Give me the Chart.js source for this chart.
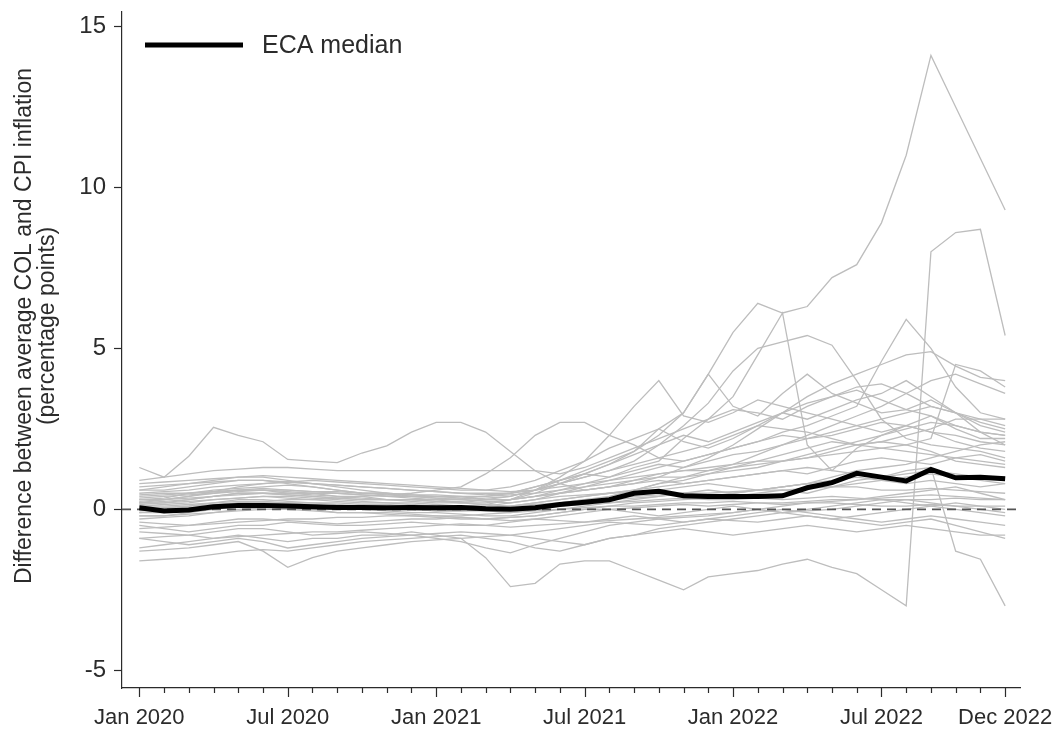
<!DOCTYPE html>
<html>
<head>
<meta charset="utf-8">
<script src="https://cdn.jsdelivr.net/npm/chart.js@4.4.1/dist/chart.umd.min.js"></script>
<style>
  html, body { margin: 0; padding: 0; background: #fff; }
  canvas { display: block; }
</style>
</head>
<body>
<canvas id="col-chart" width="1056" height="736"></canvas>
<script>
// months Jan 2020 .. Dec 2022
const months = [
  "Jan 2020", "Feb 2020", "Mar 2020", "Apr 2020", "May 2020", "Jun 2020",
  "Jul 2020", "Aug 2020", "Sep 2020", "Oct 2020", "Nov 2020", "Dec 2020",
  "Jan 2021", "Feb 2021", "Mar 2021", "Apr 2021", "May 2021", "Jun 2021",
  "Jul 2021", "Aug 2021", "Sep 2021", "Oct 2021", "Nov 2021", "Dec 2021",
  "Jan 2022", "Feb 2022", "Mar 2022", "Apr 2022", "May 2022", "Jun 2022",
  "Jul 2022", "Aug 2022", "Sep 2022", "Oct 2022", "Nov 2022", "Dec 2022"
];
const xTickPos = [0, 6, 12, 18, 24, 30, 35];
const yTicks = [-5, 0, 5, 10, 15];

const median = [
  0.05, -0.05, -0.02, 0.08, 0.12, 0.12, 0.1, 0.08, 0.06, 0.06, 0.05, 0.06,
  0.05, 0.06, 0.02, 0.0, 0.05, 0.15, 0.22, 0.3, 0.5, 0.56, 0.42, 0.4,
  0.4, 0.4, 0.42, 0.67, 0.83, 1.12, 1.0, 0.88, 1.24, 0.98, 1.0, 0.95
];

// individual countries
const c01 = [0.2, 0.3, 0.4, 0.5, 0.6, 0.6, 0.5, 0.5, 0.4, 0.4, 0.3, 0.3, 0.3, 0.2, 0.3, 0.4, 0.6, 0.9, 1.2, 1.5, 1.8, 2.5, 3.0, 4.2, 5.5, 6.4, 6.1, 6.3, 7.2, 7.6, 8.9, 11.0, 14.1, 12.5, 10.9, 9.3];
const c02 = [0.6, 0.6, 0.7, 0.8, 0.9, 0.9, 0.8, 0.7, 0.6, 0.5, 0.5, 0.4, 0.4, 0.4, 0.3, 0.3, 0.4, 0.6, 0.8, 1.0, 1.3, 1.5, 2.2, 2.8, 3.5, 4.8, 6.1, 2.0, 1.2, 1.9, 2.3, 2.6, 2.4, 2.1, 1.9, 1.8];
const c03 = [-1.2, -1.1, -1.0, -0.9, -0.8, -0.9, -1.0, -0.9, -0.9, -0.8, -0.8, -0.7, -0.8, -0.9, -1.5, -2.4, -2.3, -1.7, -1.6, -1.6, -1.9, -2.2, -2.5, -2.1, -2.0, -1.9, -1.7, -1.55, -1.8, -2.0, -2.5, -3.0, 8.0, 8.6, 8.7, 5.4];
const c04 = [-0.2, -0.2, -0.1, 0.0, 0.1, 0.1, 0.0, 0.0, -0.1, -0.1, -0.1, -0.15, -0.2, -0.2, -0.15, -0.1, 0.0, 0.1, 0.2, 0.3, 0.35, 0.4, 0.5, 0.4, 0.5, 0.6, 0.7, 0.8, 0.7, 0.9, 1.0, 1.2, 1.3, -1.3, -1.55, -3.0];
const c05 = [1.3, 1.0, 1.65, 2.55, 2.3, 2.1, 1.55, 1.5, 1.45, 1.75, 1.97, 2.4, 2.7, 2.7, 2.4, 1.8, 1.2, 0.8, 0.6, 0.7, 0.9, 1.1, 1.2, 1.3, 1.4, 1.5, 1.5, 1.6, 1.8, 2.0, 2.1, 2.3, 2.5, 2.8, 2.8, 2.8];
const c06 = [0.4, 0.45, 0.5, 0.55, 0.6, 0.65, 0.6, 0.55, 0.5, 0.45, 0.4, 0.35, 0.3, 0.3, 0.35, 0.4, 0.6, 0.8, 1.0, 1.2, 1.5, 2.0, 2.6, 3.3, 4.3, 5.0, 5.2, 5.4, 5.1, 4.0, 2.8, 2.2, 2.0, 1.9, 1.8, 1.6];
const c07 = [0.1, 0.15, 0.2, 0.3, 0.35, 0.4, 0.4, 0.35, 0.3, 0.25, 0.2, 0.2, 0.15, 0.1, 0.1, 0.2, 0.3, 0.5, 0.7, 0.9, 1.1, 1.3, 1.5, 1.7, 1.9, 2.1, 2.4, 2.6, 2.9, 3.2, 4.6, 5.9, 5.0, 3.8, 3.0, 2.8];
const c08 = [0.3, 0.3, 0.35, 0.4, 0.45, 0.5, 0.5, 0.45, 0.4, 0.35, 0.3, 0.3, 0.25, 0.2, 0.2, 0.3, 0.4, 0.5, 0.6, 0.7, 0.8, 1.0, 1.3, 1.6, 2.0, 2.5, 3.0, 3.5, 3.9, 4.2, 4.5, 4.8, 4.9, 4.45, 4.1, 4.0];
const c09 = [-0.1, -0.1, 0.0, 0.1, 0.2, 0.2, 0.15, 0.1, 0.1, 0.05, 0.0, 0.0, -0.05, -0.05, 0.0, 0.1, 0.2, 0.3, 0.4, 0.5, 0.6, 0.8, 0.9, 1.1, 1.3, 1.5, 1.7, 1.9, 2.1, 2.0, 2.1, 2.0, 2.2, 4.5, 4.3, 3.8];
const c10 = [0.2, 0.25, 0.3, 0.4, 0.5, 0.5, 0.45, 0.4, 0.35, 0.3, 0.3, 0.3, 0.25, 0.25, 0.3, 0.3, 0.6, 1.0, 1.5, 2.3, 3.2, 4.0, 2.9, 2.7, 3.0, 3.4, 3.2, 3.0, 2.8, 2.6, 2.4, 2.6, 2.9, 2.5, 2.2, 2.2];
const c11 = [0.0, 0.05, 0.1, 0.15, 0.2, 0.25, 0.3, 0.3, 0.35, 0.4, 0.45, 0.5, 0.6, 0.7, 1.1, 1.6, 2.3, 2.7, 2.7, 2.3, 2.0, 1.6, 1.8, 2.0, 2.3, 2.6, 2.5, 2.4, 2.2, 2.0, 1.9, 2.0, 1.8, 1.5, 1.4, 1.3];
const c12 = [0.9, 1.0, 1.1, 1.2, 1.25, 1.3, 1.3, 1.25, 1.2, 1.2, 1.2, 1.2, 1.2, 1.2, 1.2, 1.2, 1.2, 1.1, 1.3, 1.6, 1.9, 2.2, 2.5, 2.8, 3.1, 3.0, 2.8, 3.2, 3.5, 3.8, 3.9, 3.6, 3.2, 3.0, 2.7, 2.5];
const c13 = [0.7, 0.75, 0.8, 0.85, 0.9, 0.9, 0.85, 0.8, 0.75, 0.7, 0.65, 0.6, 0.55, 0.5, 0.5, 0.5, 0.7, 0.9, 1.1, 1.4, 1.8, 2.3, 3.0, 4.2, 3.2, 2.9, 3.6, 4.2, 3.6, 3.3, 3.0, 3.1, 3.4, 3.0, 2.4, 2.0];
const c14 = [0.8, 0.85, 0.9, 0.95, 1.0, 1.05, 1.0, 0.95, 0.9, 0.85, 0.8, 0.75, 0.7, 0.65, 0.6, 0.55, 0.6, 0.7, 0.8, 0.9, 1.0, 1.1, 1.2, 1.2, 1.3, 1.4, 1.5, 1.6, 1.7, 1.8, 1.9, 1.8, 1.7, 1.6, 1.5, 1.4];
const c15 = [0.6, 0.7, 0.8, 0.9, 1.0, 1.0, 0.9, 0.8, 0.7, 0.6, 0.5, 0.45, 0.4, 0.35, 0.3, 0.3, 0.4, 0.5, 0.6, 0.7, 0.8, 0.9, 0.8, 0.9, 1.0, 1.1, 1.2, 1.3, 1.2, 1.1, 1.0, 1.1, 1.2, 1.1, 1.0, 1.0];
const c16 = [0.3, 0.35, 0.5, 0.6, 0.65, 0.7, 0.75, 0.7, 0.6, 0.5, 0.45, 0.4, 0.35, 0.3, 0.25, 0.2, 0.3, 0.4, 0.45, 0.5, 0.55, 0.6, 0.7, 0.8, 0.7, 0.6, 0.7, 0.8, 0.9, 1.0, 0.9, 0.8, 0.9, 0.8, 0.7, 0.8];
const c17 = [0.2, 0.2, 0.3, 0.4, 0.5, 0.5, 0.45, 0.4, 0.35, 0.3, 0.3, 0.25, 0.2, 0.2, 0.15, 0.1, 0.15, 0.2, 0.3, 0.35, 0.4, 0.45, 0.5, 0.5, 0.55, 0.6, 0.6, 0.65, 0.7, 0.7, 0.6, 0.6, 0.65, 0.6, 0.55, 0.5];
const c18 = [0.1, 0.1, 0.15, 0.2, 0.25, 0.25, 0.2, 0.2, 0.2, 0.15, 0.15, 0.1, 0.1, 0.1, 0.05, 0.05, 0.1, 0.1, 0.15, 0.2, 0.25, 0.3, 0.35, 0.3, 0.3, 0.35, 0.3, 0.35, 0.4, 0.35, 0.3, 0.3, 0.3, 0.35, 0.3, 0.3];
const c19 = [-0.1, -0.05, 0.0, 0.05, 0.1, 0.1, 0.05, 0.0, 0.0, 0.0, 0.0, 0.0, -0.05, -0.05, -0.05, -0.1, -0.05, 0.0, 0.05, 0.1, 0.1, 0.15, 0.2, 0.2, 0.25, 0.2, 0.15, 0.2, 0.2, 0.15, 0.1, 0.1, 0.15, 0.1, 0.1, 0.1];
const c20 = [-0.3, -0.25, -0.2, -0.1, 0.0, 0.05, 0.1, 0.1, 0.05, 0.0, -0.05, -0.1, -0.1, -0.15, -0.2, -0.2, -0.1, 0.0, 0.1, 0.2, 0.3, 0.4, 0.5, 0.6, 0.5, 0.6, 0.7, 0.8, 1.0, 1.2, 1.3, 1.4, 1.6, 1.8, 2.0, 2.1];
const c21 = [-0.4, -0.45, -0.5, -0.4, -0.3, -0.3, -0.35, -0.4, -0.45, -0.4, -0.35, -0.3, -0.3, -0.25, -0.3, -0.35, -0.3, -0.2, -0.1, 0.0, -0.1, -0.2, -0.1, 0.0, 0.1, 0.0, -0.1, 0.0, 0.1, 0.2, 0.3, 0.2, 0.1, 0.0, -0.1, -0.2];
const c22 = [-0.5, -0.6, -0.7, -0.6, -0.5, -0.5, -0.4, -0.45, -0.5, -0.5, -0.45, -0.4, -0.45, -0.5, -0.5, -0.4, -0.3, -0.35, -0.4, -0.3, -0.2, -0.3, -0.4, -0.3, -0.2, -0.1, 0.0, -0.1, -0.2, -0.3, -0.4, -0.3, -0.2, -0.3, -0.4, -0.5];
const c23 = [-0.7, -0.75, -0.8, -0.9, -0.85, -0.8, -0.75, -0.7, -0.7, -0.65, -0.6, -0.55, -0.5, -0.45, -0.5, -0.55, -0.5, -0.45, -0.4, -0.35, -0.3, -0.25, -0.2, -0.15, -0.1, 0.0, 0.1, 0.2, 0.25, 0.3, 0.4, 0.5, 0.6, 0.7, 0.5, 0.3];
const c24 = [-0.9, -1.0, -1.1, -1.0, -0.9, -1.0, -1.2, -1.1, -1.0, -0.9, -0.85, -0.8, -0.75, -0.7, -0.75, -0.8, -0.9, -1.0, -1.1, -0.9, -0.8, -0.7, -0.6, -0.7, -0.8, -0.7, -0.6, -0.5, -0.6, -0.7, -0.6, -0.5, -0.6, -0.7, -0.8, -0.8];
const c25 = [-1.3, -1.25, -1.2, -1.1, -1.0, -1.3, -1.8, -1.5, -1.3, -1.2, -1.1, -1.0, -0.95, -0.9, -0.85, -0.8, -0.7, -0.6, -0.5, -0.4, -0.45, -0.5, -0.4, -0.3, -0.35, -0.4, -0.3, -0.2, -0.3, -0.4, -0.5, -0.4, -0.3, -0.5, -0.7, -0.9];
const c26 = [-1.6, -1.55, -1.5, -1.4, -1.3, -1.25, -1.3, -1.2, -1.1, -1.0, -0.95, -0.9, -0.85, -0.8, -0.9, -1.0, -1.2, -1.3, -1.1, -0.9, -0.8, -0.6, -0.5, -0.4, -0.3, -0.2, -0.1, -0.2, -0.3, -0.2, -0.1, 0.0, 0.1, 0.2, 0.1, 0.0];
const c27 = [0.5, 0.55, 0.6, 0.7, 0.75, 0.8, 0.85, 0.8, 0.75, 0.7, 0.65, 0.6, 0.55, 0.5, 0.45, 0.5, 0.6, 0.8, 1.0, 1.2, 1.4, 1.6, 1.5, 1.7, 1.9, 2.1, 2.3, 2.2, 2.4, 2.6, 2.8, 3.0, 3.2, 3.0, 2.6, 2.4];
const c28 = [0.0, 0.05, 0.1, 0.2, 0.3, 0.3, 0.25, 0.2, 0.15, 0.1, 0.1, 0.05, 0.0, 0.0, 0.05, 0.1, 0.2, 0.3, 0.4, 0.5, 0.6, 0.7, 0.8, 0.9, 1.0, 1.1, 1.2, 1.1, 1.3, 1.5, 1.6, 1.5, 1.4, 1.6, 1.7, 1.5];
const c29 = [-0.2, -0.2, -0.15, -0.1, -0.05, 0.0, 0.0, -0.05, -0.1, -0.1, -0.15, -0.2, -0.2, -0.25, -0.3, -0.25, -0.2, -0.1, 0.0, 0.1, 0.2, 0.25, 0.3, 0.35, 0.4, 0.5, 0.6, 0.5, 0.7, 0.8, 0.9, 1.0, 1.1, 1.0, 0.9, 0.8];
const c30 = [-0.9, -0.85, -0.8, -0.7, -0.6, -0.6, -0.7, -0.8, -0.75, -0.7, -0.75, -0.8, -0.9, -1.0, -1.2, -1.35, -1.1, -0.9, -0.7, -0.5, -0.4, -0.3, -0.25, -0.2, -0.1, 0.0, -0.1, -0.05, 0.0, 0.1, 0.2, 0.3, 0.2, 0.1, 0.0, -0.1];
const c31 = [0.35, 0.4, 0.45, 0.5, 0.55, 0.6, 0.55, 0.5, 0.5, 0.45, 0.4, 0.4, 0.35, 0.35, 0.4, 0.5, 0.7, 0.9, 1.1, 1.0, 1.2, 1.4, 1.3, 1.5, 1.7, 1.8, 2.0, 2.2, 2.3, 2.5, 2.7, 2.6, 2.4, 2.3, 2.1, 2.0];
const c32 = [0.15, 0.2, 0.25, 0.3, 0.35, 0.4, 0.35, 0.3, 0.25, 0.2, 0.2, 0.15, 0.1, 0.1, 0.15, 0.3, 0.5, 0.8, 1.1, 1.4, 1.7, 2.0, 2.3, 2.1, 2.4, 2.7, 3.0, 3.3, 3.5, 3.7, 3.4, 3.1, 2.9, 2.6, 2.4, 2.3];
const c33 = [-0.05, 0.0, 0.05, 0.1, 0.15, 0.2, 0.2, 0.15, 0.1, 0.1, 0.05, 0.05, 0.0, 0.0, 0.0, 0.05, 0.1, 0.2, 0.3, 0.4, 0.6, 0.8, 1.0, 1.2, 1.4, 1.7, 2.0, 2.3, 2.6, 2.9, 3.2, 3.6, 4.0, 4.2, 3.9, 3.6];
const c34 = [0.45, 0.5, 0.5, 0.55, 0.6, 0.6, 0.6, 0.55, 0.55, 0.5, 0.5, 0.45, 0.45, 0.4, 0.4, 0.45, 0.5, 0.6, 0.7, 0.8, 0.9, 1.0, 1.0, 1.1, 1.2, 1.3, 1.5, 1.7, 1.9, 2.1, 2.3, 2.5, 2.7, 2.6, 2.4, 2.3];
const c35 = [-0.6, -0.55, -0.5, -0.45, -0.4, -0.35, -0.3, -0.3, -0.25, -0.25, -0.2, -0.2, -0.25, -0.3, -0.3, -0.25, -0.2, -0.1, 0.0, 0.0, 0.05, 0.1, 0.15, 0.1, 0.15, 0.2, 0.2, 0.25, 0.3, 0.3, 0.35, 0.4, 0.45, 0.4, 0.35, 0.3];
const c36 = [0.25, 0.3, 0.4, 0.55, 0.7, 0.8, 0.85, 0.9, 0.85, 0.8, 0.75, 0.7, 0.65, 0.6, 0.6, 0.7, 0.9, 1.2, 1.5, 1.9, 2.2, 2.5, 2.1, 1.9, 2.2, 2.6, 3.0, 2.8, 3.1, 3.4, 3.6, 4.0, 3.5, 3.0, 2.8, 2.6];

const countryLines = [c01, c02, c03, c04, c05, c06, c07, c08, c09, c10, c11, c12, c13, c14, c15, c16, c17, c18,
  c19, c20, c21, c22, c23, c24, c25, c26, c27, c28, c29, c30, c31, c32, c33, c34, c35, c36];

const X_MIN = -0.7;
const X_MAX = 35.6;
const FONT = "'Liberation Sans', Arial, sans-serif";
const INK = "#2b2b2b";

const toPoints = (arr) => arr.map((v, i) => ({ x: i, y: v }));

const datasets = [
  {
    label: "ECA median",
    data: toPoints(median),
    borderColor: "#000",
    borderWidth: 5,
    order: 0,
  },
  {
    label: "zero",
    data: [{ x: X_MIN, y: 0 }, { x: X_MAX, y: 0 }],
    borderColor: "#555",
    borderWidth: 1.6,
    borderDash: [9, 6],
    order: 1,
  },
  ...countryLines.map((arr, i) => ({
    label: "country " + (i + 1),
    data: toPoints(arr),
    borderColor: "#bdbdbd",
    borderWidth: 1.3,
    order: 2,
  })),
];

// monthly tick marks, the axis title and the inline legend
const decorations = {
  id: "decorations",
  afterDraw(chart) {
    const { ctx, chartArea } = chart;
    const xs = chart.scales.x;
    ctx.save();

    ctx.strokeStyle = INK;
    ctx.lineWidth = 1.2;
    ctx.beginPath();
    months.forEach((m, i) => {
      const px = Math.round(xs.getPixelForValue(i)) + 0.5;
      const len = xTickPos.includes(i) ? 9 : 5;
      ctx.moveTo(px, xs.top);
      ctx.lineTo(px, xs.top + len);
    });
    ctx.stroke();

    ctx.fillStyle = INK;
    ctx.font = "23px " + FONT;
    ctx.textAlign = "center";
    ctx.textBaseline = "middle";
    ctx.translate(25, 326);
    ctx.rotate(-Math.PI / 2);
    ctx.fillText("Difference between average COL and CPI inflation", 0, 0);
    ctx.fillText("(percentage points)", 0, 23);
    ctx.setTransform(1, 0, 0, 1, 0, 0);

    const ly = chartArea.top + 33;
    ctx.strokeStyle = "#000";
    ctx.lineWidth = 5;
    ctx.beginPath();
    ctx.moveTo(chartArea.left + 23, ly);
    ctx.lineTo(chartArea.left + 121, ly);
    ctx.stroke();
    ctx.font = "25px " + FONT;
    ctx.textAlign = "left";
    ctx.fillText("ECA median", chartArea.left + 140, ly + 1);

    ctx.restore();
  },
};

new Chart(document.getElementById("col-chart"), {
  type: "line",
  data: { datasets },
  plugins: [decorations],
  options: {
    responsive: false,
    animation: false,
    layout: { padding: { left: 0, right: 36, top: 12, bottom: 0 } },
    elements: {
      point: { radius: 0, hoverRadius: 0 },
      line: { tension: 0, fill: false },
    },
    plugins: {
      legend: { display: false },
      tooltip: { enabled: false },
    },
    scales: {
      x: {
        type: "linear",
        min: X_MIN,
        max: X_MAX,
        afterBuildTicks: (s) => { s.ticks = xTickPos.map((v) => ({ value: v })); },
        afterFit: (s) => {
          s.height = 48;
          s.paddingLeft = 0;
          s.paddingRight = 0;
        },
        grid: { display: true, drawOnChartArea: false, drawTicks: false },
        border: { display: true, color: INK, width: 1.2 },
        ticks: {
          autoSkip: false,
          maxRotation: 0,
          padding: 17,
          color: INK,
          font: { family: FONT, size: 22 },
          callback: (v) => months[v],
        },
      },
      y: {
        min: -5.55,
        max: 15.45,
        afterBuildTicks: (s) => { s.ticks = yTicks.map((v) => ({ value: v })); },
        afterFit: (s) => {
          s.width = 122;
          s.paddingTop = 0;
          s.paddingBottom = 0;
        },
        grid: { display: true, drawOnChartArea: false, tickLength: 8, tickColor: INK, tickWidth: 1.2 },
        border: { display: true, color: INK, width: 1.2 },
        ticks: {
          padding: 8,
          color: INK,
          font: { family: FONT, size: 24 },
        },
      },
    },
  },
});
</script>
</body>
</html>
